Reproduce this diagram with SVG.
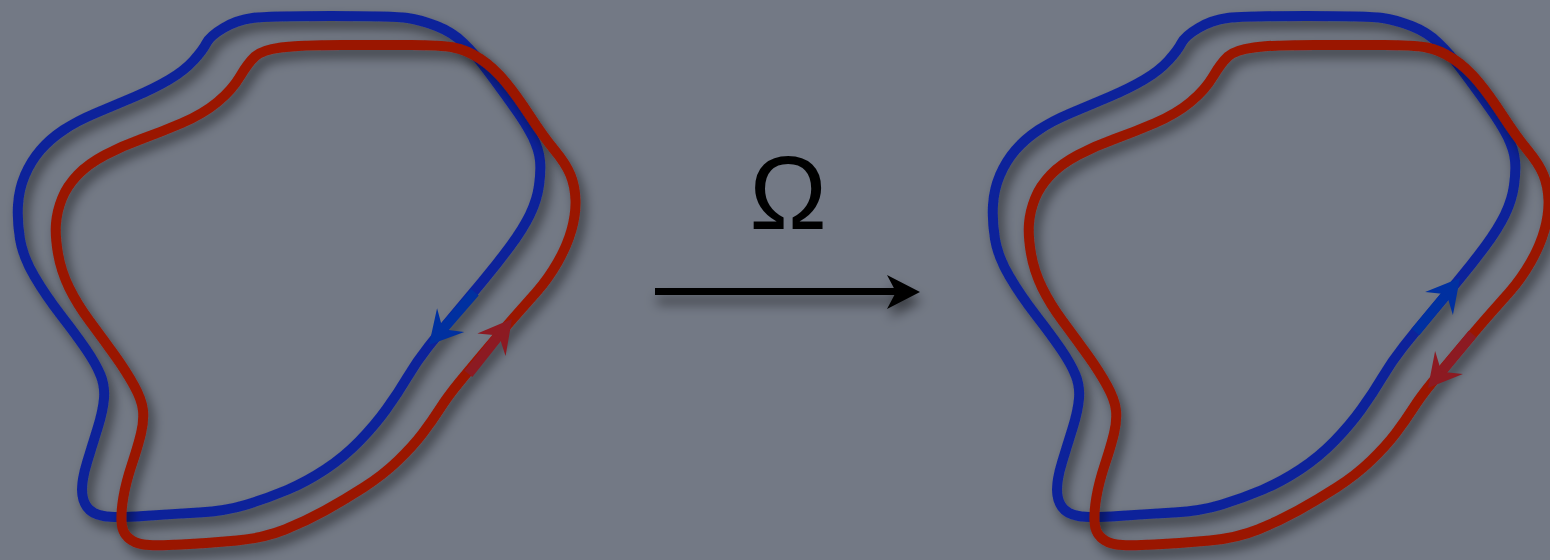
<svg xmlns="http://www.w3.org/2000/svg" xmlns:xlink="http://www.w3.org/1999/xlink" width="1550" height="560" viewBox="0 0 1550 560">
  <style>
    .loop { fill: none; stroke-width: 10; stroke-linejoin: round; filter: url(#shadow); }
    .blue { stroke: #10239a; }
    .red { stroke: #9a1600; }
    .shaft { fill: none; stroke-width: 10; stroke-linecap: butt; }
    .blue-dir { fill: #0030a0; stroke: #0030a0; }
    .red-dir { fill: #8c1a22; stroke: #8c1a22; }
    .omega { font-family: "Liberation Sans", Arial, sans-serif; font-size: 104px; fill: #000; }
  </style>
  <defs>
    <filter id="shadow" x="-20%" y="-20%" width="140%" height="140%">
      <feDropShadow dx="5" dy="7" stdDeviation="6" flood-color="#000" flood-opacity="0.5"/>
    </filter>
    <filter id="arrow-shadow" x="-20%" y="-200%" width="140%" height="500%">
      <feDropShadow dx="2" dy="9" stdDeviation="6" flood-color="#000" flood-opacity="0.5"/>
    </filter>
    <!-- outer loop -->
    <path id="blue-loop" d="M 223.5,28 Q 237,20 252.5,18 Q 268,16 331,16 Q 394,16 407.5,18 Q 421,20 436.5,26 Q 452,32 463.5,43 Q 475,54 487,70 Q 499,86 513,105.5 Q 527,125 533,137.5 Q 539,150 540,160.5 Q 541,171 539,185.5 Q 537,200 530,214.5 Q 523,229 510,246.5 Q 497,264 482,282 Q 467,300 453.5,316 Q 440,332 428.5,346.5 Q 417,361 407.5,377 Q 398,393 386.5,409 Q 375,425 359.5,441 Q 344,457 325,469.5 Q 306,482 287,490 Q 268,498 247,504.5 Q 226,511 199,512.5 Q 172,514 143.5,516 Q 115,518 103.5,516 Q 92,514 87,507 Q 82,500 82,489.5 Q 82,479 87,462.5 Q 92,446 97.5,428.5 Q 103,411 104,398.5 Q 105,386 100.5,375 Q 96,364 86.5,350 Q 77,336 61.5,316 Q 46,296 34.5,276.5 Q 23,257 20,239 Q 17,221 18,205 Q 19,189 25,175 Q 31,161 40.5,150 Q 50,139 63.5,130 Q 77,121 96,113 Q 115,105 134,97 Q 153,89 168.5,80 Q 184,71 193.5,60.5 Q 203,50 206.5,43 Q 210,36 223.5,28 Z"/>
    <!-- inner loop, shifted down and right -->
    <path id="red-loop" d="M 255,56.5 Q 262,50 281,47.5 Q 300,45 341.5,45 Q 383,45 411.5,45 Q 440,45 453.5,47.5 Q 467,50 480.5,59 Q 494,68 505.5,82 Q 517,96 530,116 Q 543,136 554.5,150 Q 566,164 570.5,175 Q 575,186 575.5,200 Q 576,214 571.5,230 Q 567,246 557.5,262.5 Q 548,279 536.5,292 Q 525,305 517,314 Q 509,323 490,345.5 Q 471,368 459.5,382 Q 448,396 440,408.5 Q 432,421 422.5,433.5 Q 413,446 398,460.5 Q 383,475 363.5,487.5 Q 344,500 325,510.5 Q 306,521 285,529.5 Q 264,538 237,540.5 Q 210,543 181.5,544.5 Q 153,546 143.5,544.5 Q 134,543 128,537.5 Q 122,532 121.5,521.5 Q 121,511 123.5,496.5 Q 126,482 132,464 Q 138,446 141,433.5 Q 144,421 143,410.5 Q 142,400 134,385.5 Q 126,371 114.5,355 Q 103,339 90,321.5 Q 77,304 69,287.5 Q 61,271 58,253.5 Q 55,236 56,223.5 Q 57,211 62,198.5 Q 67,186 77.5,175 Q 88,164 105,155 Q 122,146 141.5,139 Q 161,132 182,123 Q 203,114 217.5,102 Q 232,90 240,76.5 Q 248,63 255,56.5 Z"/>
    <!-- direction mark: short shaft plus notched head, tip at the origin pointing +x -->
    <g id="dir-mark">
      <line class="shaft" x1="-70" y1="0" x2="-20" y2="0"/>
      <path d="M 0,0 L -33,-18 L -21,0 L -33,18 Z" stroke="none"/>
    </g>
  </defs>

  <rect x="0" y="0" width="1550" height="560" fill="#737985"/>

  <!-- before: both loops -->
  <g id="loops-before">
    <use xlink:href="#blue-loop" class="loop blue"/>
    <use xlink:href="#red-loop" class="loop red"/>
    <use xlink:href="#dir-mark" class="blue-dir" transform="translate(429,345) rotate(131)"/>
    <use xlink:href="#dir-mark" class="red-dir" transform="translate(512,319) rotate(-51.5)"/>
  </g>

  <!-- after: same loops, directions changed -->
  <g id="loops-after">
    <use xlink:href="#blue-loop" class="loop blue" transform="translate(975,0)"/>
    <use xlink:href="#red-loop" class="loop red" transform="translate(973,0)"/>
    <use xlink:href="#dir-mark" class="blue-dir" transform="translate(1460,278) rotate(-50.5)"/>
    <use xlink:href="#dir-mark" class="red-dir" transform="translate(1428,388) rotate(129.5)"/>
  </g>

  <!-- map between the two states -->
  <g id="connectors">
    <g id="omega-map" filter="url(#arrow-shadow)">
      <line x1="655" y1="291.5" x2="896" y2="291.5" stroke="#000" stroke-width="7"/>
      <path d="M 920,292 L 887,275 L 896,292 L 887,309 Z" fill="#000"/>
    </g>
    <text class="omega" x="788" y="229" text-anchor="middle">Ω</text>
  </g>
</svg>
